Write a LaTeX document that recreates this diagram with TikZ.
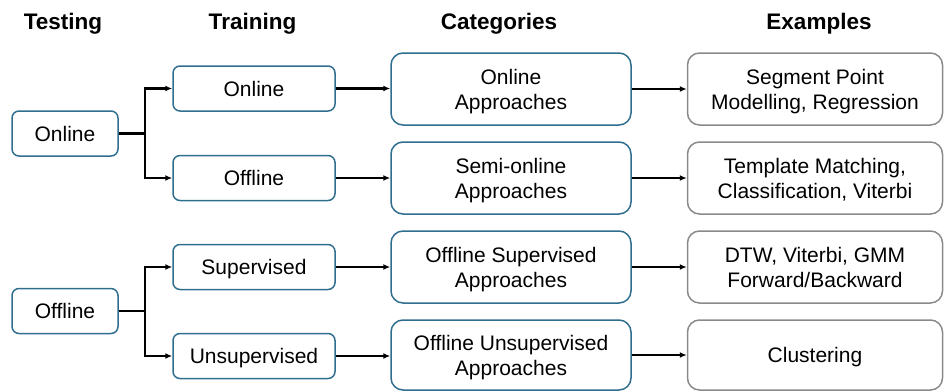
\documentclass[tikz,border=0pt]{standalone}
\usepackage{fontspec}
\setmainfont{Liberation Sans}
\usetikzlibrary{arrows.meta}
\definecolor{bblue}{HTML}{2F6E8F}
\definecolor{bgray}{HTML}{8A8A8A}
\begin{document}
\begin{tikzpicture}[x=1pt,y=-1pt,
  every node/.style={font=\fontsize{21}{25}\selectfont, align=center, inner sep=0pt, text depth=0pt},
  hdr/.style={font=\fontsize{22.5}{26}\selectfont\bfseries, anchor=base},
  bbox/.style={draw=bblue, line width=1.5pt, rounded corners=7pt, minimum height=45pt},
  cbox/.style={draw=bblue, line width=1.5pt, rounded corners=12pt, minimum width=240pt, minimum height=72pt},
  ebox/.style={draw=bgray, line width=1.5pt, rounded corners=12pt, minimum width=255pt, minimum height=72pt},
  conn/.style={line width=2.4pt, -{Latex[length=7pt,width=6pt]}},
  plain/.style={line width=2.4pt}]
\useasboundingbox (0,0) rectangle (946,391);
% headers
\node[hdr] (h1) at (63,29) {Testing};
\node[hdr] (h2) at (252.5,29) {Training};
\node[hdr] (h3) at (499,29) {Categories};
\node[hdr] (h4) at (819,29) {Examples};
% testing
\node[bbox, minimum width=106pt] (ton) at (65,133.5) {Online};
\node[bbox, minimum width=106pt] (toff) at (65,311) {Offline};
% training
\node[bbox, minimum width=162pt] (r1) at (254,88.5) {Online};
\node[bbox, minimum width=162pt] (r2) at (254,178) {Offline};
\node[bbox, minimum width=162pt] (r3) at (254,267) {Supervised};
\node[bbox, minimum width=162pt] (r4) at (254,356) {Unsupervised};
% categories
\node[cbox] (c1) at (511,89) {Online\\Approaches};
\node[cbox] (c2) at (511,178) {Semi-online\\Approaches};
\node[cbox] (c3) at (511,267) {Offline Supervised\\Approaches};
\node[cbox, minimum height=70pt] (c4) at (511,355) {Offline Unsupervised\\Approaches};
% examples
\node[ebox] (e1) at (815,89) {Segment Point\\Modelling, Regression};
\node[ebox] (e2) at (815,178) {Template Matching,\\Classification, Viterbi};
\node[ebox] (e3) at (815,267) {DTW, Viterbi, GMM\\Forward/Backward};
\node[ebox, minimum height=70pt] (e4) at (815,355) {Clustering};
% junctions
\coordinate (j1) at (145,133.5);
\coordinate (j2) at (145,311);
\draw[plain] (ton.east) -- (j1);
\draw[conn] (j1) |- (r1.west);
\draw[conn] (j1) |- (r2.west);
\draw[plain] (toff.east) -- (j2);
\draw[conn] (j2) |- (r3.west);
\draw[conn] (j2) |- (r4.west);
\foreach \i in {1,2,3,4}{
  \draw[conn] (r\i.east) -- (r\i.east -| c\i.west);
  \draw[conn] (c\i.east) -- (c\i.east -| e\i.west);
}
\end{tikzpicture}
\end{document}
